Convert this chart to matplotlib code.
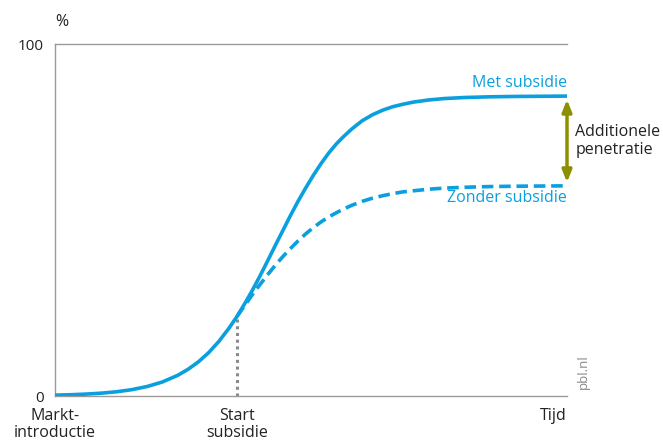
import matplotlib
matplotlib.use("Agg")
import matplotlib.pyplot as plt

# Data
x_met = [0, 3, 6, 9, 12, 15, 18, 21, 24, 26, 28, 30, 32, 34, 35.5, 37, 38.5, 40, 41.5, 43, 44.5,
         46, 47.5, 49, 50.5, 52, 53.5, 55, 56.5, 58, 60, 62, 64, 66, 68, 70, 73, 76, 80, 85, 90, 95, 100]
y_met = [0.25, 0.36, 0.54, 0.80, 1.2, 1.8, 2.7, 4.0, 5.9, 7.6, 9.7, 12.3, 15.5, 19.3, 22.5, 26.1,
         29.9, 34.0, 38.3, 42.7, 47.0, 51.3, 55.4, 59.2, 62.8, 66.1, 69.1, 71.7, 73.9, 75.9, 78.2,
         79.9, 81.2, 82.2, 82.9, 83.5, 84.1, 84.5, 84.8, 85.0, 85.1, 85.15, 85.2]
x_zonder = [35.5, 37, 38.5, 40, 41.5, 43, 44.5, 46, 47.5, 49, 50.5, 52, 53.5, 55, 56.5, 58, 60, 62,
            64, 66, 68, 70, 73, 76, 80, 85, 90, 100]
y_zonder = [22.5, 25.6, 28.7, 31.6, 34.4, 37.1, 39.6, 41.9, 44.1, 46.1, 47.9, 49.5, 50.9, 52.1,
            53.2, 54.2, 55.3, 56.2, 56.9, 57.5, 58.0, 58.3, 58.75, 59.05, 59.3, 59.5, 59.6, 59.7]
start_x = 35.5
start_y = 22.5
y_ticks = [0, 100]
x_labels = ["Markt-\nintroductie", "Start\nsubsidie", "Tijd"]
x_label_pos = [0, 35.5, 100]

blue = "#0a9fdf"
grey = "#9a9a9a"
olive = "#8c9000"
font = "Open Sans"

fig = plt.figure(figsize=(6.63, 4.46), dpi=100)
ax = fig.add_axes([55/663, 50/446, 512/663, 352/446])
ax.set_xlim(0, 100)
ax.set_ylim(0, 100)

ax.plot(x_met, y_met, color=blue, lw=2.6, solid_capstyle="butt", solid_joinstyle="round", zorder=3)
ax.plot(x_zonder, y_zonder, color=blue, lw=2.6, dashes=(3.2, 1.6), dash_joinstyle="round", zorder=3)
ax.plot([start_x, start_x], [0, start_y], color="#8a8a8a", lw=2.2, dashes=(1, 1.2), zorder=2)

ax.spines["right"].set_visible(False)
for s in ["left", "bottom", "top"]:
    ax.spines[s].set_color(grey)
    ax.spines[s].set_linewidth(1.0)

ax.set_yticks(y_ticks)
ax.set_yticklabels([str(v) for v in y_ticks], fontsize=11, fontfamily=font, color="#222222")
ax.tick_params(axis="y", length=0, pad=8)
ax.set_xticks([])

for lab, xp in zip(x_labels, x_label_pos):
    ha = "right" if xp == 100 else "center"
    ax.text(xp, -3.5, lab, ha=ha, va="top", fontsize=11.5, fontfamily=font,
            color="#222222", linespacing=1.05, clip_on=False)

fig.text(62/663, 1 - 22/446, "%", ha="center", va="center", fontsize=11.5, fontfamily=font, color="#222222")

ax.text(100, y_met[-1] + 1.4, "Met subsidie", ha="right", va="bottom", fontsize=11.5,
        fontfamily=font, color=blue)
ax.text(100, y_zonder[-1] - 1.2, "Zonder subsidie", ha="right", va="top", fontsize=11.5,
        fontfamily=font, color=blue)

ax.annotate("", xy=(100, y_met[-1] - 1.0), xytext=(100, y_zonder[-1] + 1.0),
            arrowprops=dict(arrowstyle="<|-|>,head_length=0.7,head_width=0.28", color=olive, lw=2.5,
                            shrinkA=0, shrinkB=0), annotation_clip=False)
ax.text(101.6, (y_met[-1] + y_zonder[-1]) / 2, "Additionele\npenetratie", ha="left", va="center",
        fontsize=11.5, fontfamily=font, color="#222222", linespacing=1.1, clip_on=False)

fig.text(583/663, 1 - 372/446, "pbl.nl", rotation=90, ha="center", va="center", fontsize=9.5,
         fontfamily=font, color="#888888")

fig.savefig("out.png", dpi=100)
